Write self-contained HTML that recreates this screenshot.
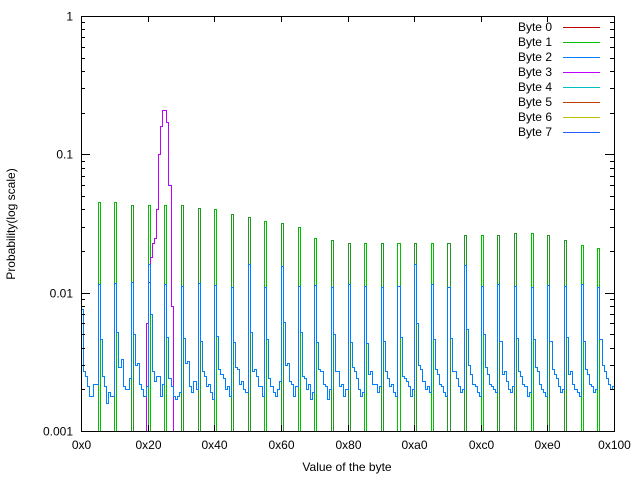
<!DOCTYPE html>
<html><head><meta charset="utf-8"><style>
body{margin:0;background:#fff;}
svg{display:block;font-family:"Liberation Sans",sans-serif;font-size:12px;}
</style></head><body>
<svg id="chart" width="640" height="480" viewBox="0 0 640 480">
<rect x="0" y="0" width="640" height="480" fill="#fff"/>
<g id="marks"></g>
<g id="axes"></g>
<g id="legend"></g>
<text x="347" y="471" text-anchor="middle">Value of the byte</text>
<text transform="translate(15,224) rotate(-90)" text-anchor="middle">Probability(log scale)</text>
</svg>
<script>
const xTickLabels = ["0x0","0x20","0x40","0x60","0x80","0xa0","0xc0","0xe0","0x100"];
const yTickValues = [1,0.1,0.01,0.001];
const yTickLabels = ["1","0.1","0.01","0.001"];
const legendLabels = ["Byte 0","Byte 1","Byte 2","Byte 3","Byte 4","Byte 5","Byte 6","Byte 7"];
const legendColors = ["#c00000","#00c000","#0080ff","#c000ff","#00c0c0","#c04000","#c0c000","#2060ff"];
const spikeBins = [8,16,24,32,40,48,56,64,72,80,88,96,104,112,120,128,136,144,152,160,168,176,184,192,200,208,216,224,232,240,248];
const spikeVals = [0.045,0.045,0.043,0.043,0.043,0.043,0.041,0.040,0.037,0.035,0.033,0.032,0.030,0.025,0.024,0.023,0.023,0.023,0.023,0.023,0.023,0.023,0.026,0.026,0.026,0.027,0.027,0.026,0.024,0.022,0.021];
const spikeDark = [0,0,1,0,0,1,1,0,1,1,0,1,0,0,1,1,0,1,0,1,0,1,1,0,1,1,0,1,1,0,0];
const magentaBins = [31,32,33,34,35,36,37,38,39,40,41,42,43];
const magentaVals = [0.006,0.012,0.018,0.023,0.025,0.04,0.1,0.16,0.21,0.21,0.17,0.06,0.008];
const blueVals = [
.0076,.0027,.0025,.0021,.0018,.0018,.0022,.0022,
.0115,.0046,.0025,.0021,.0016,.0019,.0018,.0018,
.0118,.0052,.0029,.0033,.0021,.0020,.0020,.0024,
.0120,.0050,.0030,.0031,.0022,.0020,.0018,.0021,
.0160,.0070,.0027,.0023,.0025,.0025,.0018,.0022,
.0115,.0048,.0024,.0021,.0018,.0017,.0018,.0019,
.0112,.0047,.0031,.0032,.0021,.0019,.0023,.0020,
.0118,.0045,.0027,.0025,.0021,.0022,.0019,.0017,
.0113,.0049,.0028,.0026,.0024,.0020,.0021,.0018,
.0110,.0044,.0029,.0028,.0022,.0023,.0020,.0019,
.0160,.0052,.0027,.0028,.0025,.0021,.0021,.0018,
.0110,.0046,.0024,.0021,.0019,.0018,.0020,.0023,
.0155,.0061,.0030,.0031,.0023,.0022,.0018,.0021,
.0112,.0052,.0025,.0024,.0020,.0022,.0017,.0019,
.0113,.0044,.0028,.0027,.0022,.0021,.0017,.0020,
.0110,.0050,.0027,.0027,.0021,.0022,.0018,.0020,
.0115,.0044,.0029,.0027,.0024,.0020,.0018,.0019,
.0112,.0043,.0026,.0027,.0022,.0022,.0019,.0021,
.0110,.0045,.0027,.0024,.0021,.0022,.0019,.0018,
.0112,.0048,.0025,.0024,.0023,.0021,.0018,.0020,
.0160,.0060,.0030,.0028,.0023,.0020,.0021,.0019,
.0115,.0046,.0028,.0026,.0022,.0021,.0019,.0018,
.0110,.0047,.0027,.0027,.0024,.0021,.0019,.0020,
.0158,.0055,.0030,.0026,.0022,.0021,.0019,.0018,
.0112,.0050,.0029,.0026,.0022,.0021,.0020,.0019,
.0115,.0045,.0026,.0027,.0023,.0020,.0019,.0021,
.0112,.0047,.0027,.0025,.0022,.0021,.0018,.0019,
.0110,.0046,.0029,.0027,.0022,.0020,.0019,.0018,
.0113,.0045,.0028,.0026,.0024,.0021,.0019,.0020,
.0112,.0048,.0026,.0027,.0022,.0020,.0019,.0018,
.0115,.0045,.0028,.0026,.0022,.0021,.0019,.0020,
.0110,.0046,.0030,.0027,.0024,.0022,.0020,.0021
];
const X0=81,X1=614,Y0=16,Y1=431,NB=256;
const ns="http://www.w3.org/2000/svg";
function xs(b){return X0+(X1-X0)*b/NB;}
function ys(v){if(v<=0.001)return Y1;return Y0+(Y1-Y0)*(-Math.log10(v))/3;}
function px(v){return Math.round(v)+0.5;}
function mk(t,a){const e=document.createElementNS(ns,t);for(const k in a)e.setAttribute(k,a[k]);return e;}
function stepPath(vals){let d="";for(let i=0;i<NB;i++){const y=px(ys(vals[i]));d+=(i===0?"M":"L")+px(xs(i))+","+y+"L"+px(xs(i+1))+","+y;}return d;}
const marks=document.getElementById("marks");
const mag=new Array(NB).fill(0);
magentaBins.forEach((b,i)=>mag[b]=magentaVals[i]);
const g1=new Array(NB).fill(0),g2=new Array(NB).fill(0);
spikeBins.forEach((b,i)=>{if(spikeDark[i])g2[b]=spikeVals[i];else g1[b]=spikeVals[i];});
const series=[[g2,"#229922","spikes-dark"],[g1,"#00c000","spikes-green"],[mag,"#c000ff","byte-3-line"],[blueVals,"#0080ff","byte-7-line"]];
series.forEach(s=>{const p=mk("path",{d:stepPath(s[0]),fill:"none",stroke:s[1],"stroke-width":"1"});


marks.appendChild(p);});
const axes=document.getElementById("axes");
const frame=mk("rect",{x:X0+0.5,y:Y0+0.5,width:X1-X0,height:Y1-Y0,fill:"none",stroke:"#000","stroke-width":"1"});


axes.appendChild(frame);
xTickLabels.forEach((l,i)=>{const x=px(xs(i*32));
axes.appendChild(mk("line",{x1:x,y1:Y1,x2:x,y2:Y1-6,stroke:"#000"}));
axes.appendChild(mk("line",{x1:x,y1:Y0,x2:x,y2:Y0+6,stroke:"#000"}));
const t=mk("text",{x:x,y:449,"text-anchor":"middle"});t.textContent=l;


axes.appendChild(t);});
yTickValues.forEach((v,i)=>{const yy=px(v===0.001?Y1:ys(v));
axes.appendChild(mk("line",{x1:X0,y1:yy,x2:X0+9,y2:yy,stroke:"#000"}));
axes.appendChild(mk("line",{x1:X1,y1:yy,x2:X1-9,y2:yy,stroke:"#000"}));
const t=mk("text",{x:73,y:yy+4,"text-anchor":"end"});t.textContent=yTickLabels[i];


axes.appendChild(t);
if(v>0.001){for(let m=2;m<10;m++){const my=px(ys(v*m/10));
axes.appendChild(mk("line",{x1:X0,y1:my,x2:X0+4,y2:my,stroke:"#000"}));
axes.appendChild(mk("line",{x1:X1,y1:my,x2:X1-4,y2:my,stroke:"#000"}));}}});
const lg=document.getElementById("legend");
legendLabels.forEach((l,i)=>{const y=27+15*i;
const t=mk("text",{x:552,y:y+4,"text-anchor":"end"});t.textContent=l;


lg.appendChild(t);
lg.appendChild(mk("line",{x1:563,y1:y+0.5,x2:600,y2:y+0.5,stroke:legendColors[i]}));});
</script>
</body></html>
